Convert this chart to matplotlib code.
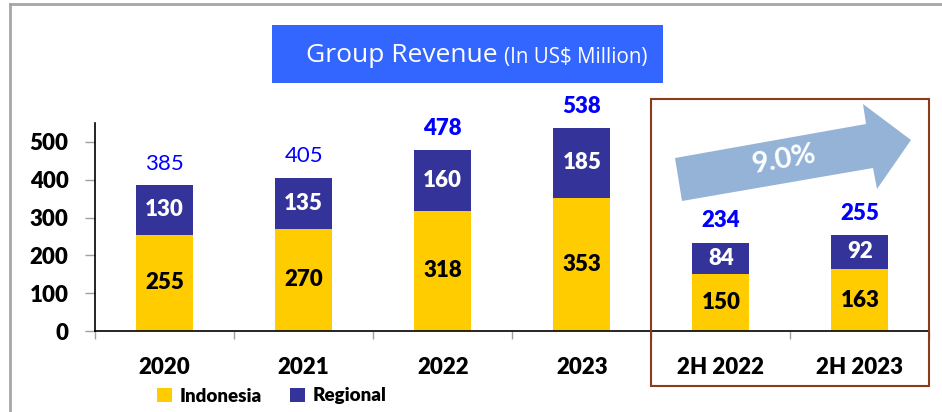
import matplotlib
matplotlib.use("Agg")
import matplotlib.pyplot as plt
from matplotlib.patches import Rectangle, Polygon
from matplotlib.lines import Line2D
import numpy as np

categories = ["2020", "2021", "2022", "2023", "2H 2022", "2H 2023"]
indonesia = [255, 270, 318, 353, 150, 163]
regional = [130, 135, 160, 185, 84, 92]
totals = [385, 405, 478, 538, 234, 255]
total_bold = [False, False, True, True, True, True]
yticks = [0, 100, 200, 300, 400, 500]
growth_label = "9.0%"

plt.rcParams['font.family'] = ['Lato', 'DejaVu Sans']

W, H = 942, 412
fig = plt.figure(figsize=(W / 100, H / 100), dpi=100)

def fx(px):
    return px / W

def fy(py):
    return 1 - py / H

YEL = "#FFCC00"
NAVY = "#333399"
BLUE = "#0000FF"
FS = 16
WT = 'heavy'

ax = fig.add_axes([fx(95), fy(331), fx(929.5) - fx(95), fy(123) - fy(331)])
x = np.arange(len(categories))
bw = 0.41
ax.bar(x, indonesia, bw, color=YEL, label="Indonesia", zorder=2)
ax.bar(x, regional, bw, bottom=indonesia, color=NAVY, label="Regional", zorder=2)

for i in range(len(categories)):
    ax.text(x[i], indonesia[i] / 2, str(indonesia[i]), ha='center', va='center',
            fontsize=FS, fontweight=WT, color='black')
    ax.text(x[i], indonesia[i] + regional[i] / 2, str(regional[i]), ha='center', va='center',
            fontsize=FS, fontweight=WT, color='white')
    ax.annotate(str(totals[i]), (x[i], totals[i]), xytext=(0, 15.5), textcoords='offset points',
                ha='center', va='center', fontsize=FS,
                fontweight=WT if total_bold[i] else 'normal', color=BLUE,
                annotation_clip=False)

ax.set_xlim(-0.5, len(categories) - 0.5)
ax.set_ylim(0, 550)
ax.set_yticks(yticks)
ax.set_yticklabels([str(v) for v in yticks], fontsize=FS, fontweight=WT)
ax.set_xticks(x)
ax.set_xticklabels(categories, fontsize=FS, fontweight=WT)
ax.tick_params(axis='x', length=0, pad=19)
ax.set_xticks(np.arange(-0.5, len(categories) - 0.4, 1), minor=True)
ax.tick_params(axis='x', which='minor', length=6, color='#A0A0A0', width=1)
ax.tick_params(axis='y', length=7, color='#A0A0A0', width=1, pad=12)
for s in ['top', 'right']:
    ax.spines[s].set_visible(False)
for s in ['left', 'bottom']:
    ax.spines[s].set_color('black')
    ax.spines[s].set_linewidth(1.2)

# outer border
fig.add_artist(Line2D([fx(10), fx(10)], [fy(4), 0], color='#A6A6A6', lw=2))
fig.add_artist(Line2D([fx(10), 1], [fy(4), fy(4)], color='#A6A6A6', lw=2))

# title box
fig.add_artist(Rectangle((fx(272), fy(83)), fx(663) - fx(272), fy(25) - fy(83),
                         facecolor='#3366FF', edgecolor='none', transform=fig.transFigure))
fig.text(fx(306), fy(55), "Group Revenue", color='white', fontsize=19, ha='left', va='center',
         family=['Open Sans', 'DejaVu Sans'])
fig.text(fx(504), fy(57), "(In US$ Million)", color='white', fontsize=14.8, ha='left', va='center',
         family=['Open Sans', 'DejaVu Sans'])

# brown box
fig.add_artist(Rectangle((fx(651), fy(386)), fx(929) - fx(651), fy(99) - fy(386),
                         facecolor='none', edgecolor='#8B3A1A', lw=1.5, transform=fig.transFigure))

# arrow
pts = [(682, 201), (675, 158), (866, 124), (863, 104), (911, 140), (877, 189), (873, 168)]
fig.add_artist(Polygon([(fx(a), fy(b)) for a, b in pts], closed=True, facecolor='#95B3D7',
                       edgecolor='none', transform=fig.transFigure))
fig.text(fx(784), fy(160), growth_label, color='white', fontsize=21, fontweight='bold',
         ha='center', va='center', rotation=10)

# legend
handles, labels = ax.get_legend_handles_labels()
leg = fig.legend(handles, labels, loc='center left', bbox_to_anchor=(fx(140), fy(396)),
                 ncol=2, frameon=False, prop={'weight': WT, 'size': 13.5},
                 handlelength=0.8, handleheight=0.8, handletextpad=0.4, columnspacing=1.5)

fig.savefig("out.png", dpi=100)
